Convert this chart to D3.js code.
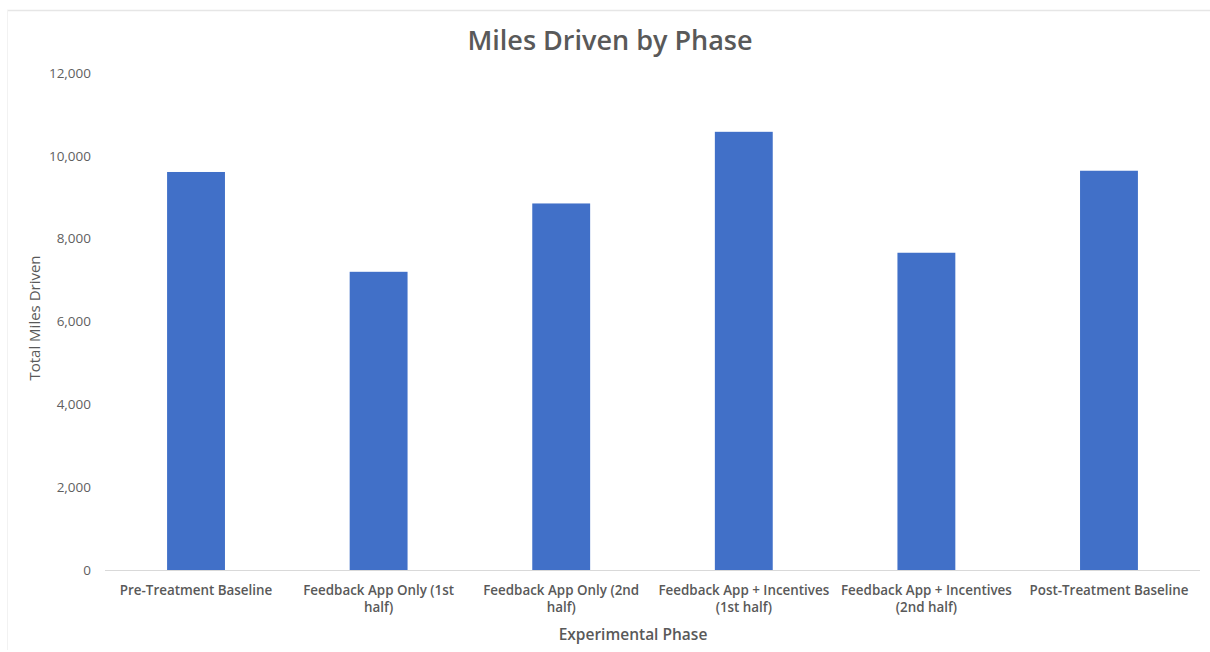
<!DOCTYPE html>
<html>
<head>
<meta charset="utf-8">
<script src="https://cdn.jsdelivr.net/npm/d3@7"></script>
<style>
  html, body { margin: 0; padding: 0; background: #ffffff; }
  svg { display: block; }
  text { font-family: "Open Sans", "Noto Sans", sans-serif; fill: #595959; }
</style>
</head>
<body>
<svg id="chart" width="1210" height="652"></svg>
<script>
const categories = [
  "Pre-Treatment Baseline",
  "Feedback App Only (1st half)",
  "Feedback App Only (2nd half)",
  "Feedback App + Incentives (1st half)",
  "Feedback App + Incentives (2nd half)",
  "Post-Treatment Baseline"
];
const milesDriven = [9610, 7200, 8850, 10580, 7660, 9640];
const yTicks = [0, 2000, 4000, 6000, 8000, 10000, 12000];

const chartTitle = "Miles Driven by Phase";
const xTitle = "Experimental Phase";
const yTitle = "Total Miles Driven";

const W = 1210, H = 652;
const margin = { top: 73, right: 10, bottom: 82, left: 105 };
const svg = d3.select("#chart");

// faint outer frame like the screenshot edge
svg.append("line")
  .attr("x1", 7).attr("x2", W).attr("y1", 10.5).attr("y2", 10.5)
  .attr("stroke", "#e6e6e6").attr("stroke-width", 1.5);
svg.append("line")
  .attr("x1", 7.5).attr("x2", 7.5).attr("y1", 10).attr("y2", H - 2)
  .attr("stroke", "#f2f2f2").attr("stroke-width", 1);

const x = d3.scaleBand()
  .domain(categories)
  .range([margin.left, W - margin.right])
  .paddingInner(0.683)
  .paddingOuter(0.34);

const y = d3.scaleLinear()
  .domain([0, 12000])
  .range([570, 73]);

// bars
svg.append("g").selectAll("rect")
  .data(categories)
  .join("rect")
  .attr("x", d => x(d))
  .attr("y", (d, i) => y(milesDriven[i]))
  .attr("width", x.bandwidth())
  .attr("height", (d, i) => y(0) - y(milesDriven[i]))
  .attr("fill", "#4170C8");

// y axis (labels only)
const yAxis = d3.axisLeft(y)
  .tickValues(yTicks)
  .tickFormat(d3.format(","))
  .tickSize(0)
  .tickPadding(0);
const gy = svg.append("g")
  .attr("transform", "translate(91,0)")
  .call(yAxis);
gy.select(".domain").remove();
gy.selectAll("text")
  .style("font-size", "13.5px")
  .style("font-weight", "500")
  .style("fill", "#5f5f5f")
  .style("font-family", "'Open Sans', sans-serif");

// x axis
const xAxis = d3.axisBottom(x).tickSize(0).tickPadding(15);
const gx = svg.append("g")
  .attr("transform", `translate(0,${y(0)})`)
  .call(xAxis);
gx.select(".domain")
  .attr("stroke", "#d9d9d9")
  .attr("d", `M${margin.left},0.5H${W - margin.right}`);
gx.selectAll("text")
  .style("font-size", "13.4px")
  .style("font-weight", "600")
  .style("fill", "#595959")
  .style("font-family", "'Open Sans', sans-serif")
  .call(wrap, 172);

function wrap(textSel, width) {
  textSel.each(function () {
    const text = d3.select(this);
    const words = text.text().split(/\s+/);
    const yAttr = text.attr("y");
    const dy = parseFloat(text.attr("dy")) || 0;
    text.text(null);
    let line = [];
    let lineNumber = 0;
    const lineHeight = 1.34;
    let tspan = text.append("tspan").attr("x", 0).attr("y", yAttr).attr("dy", dy + "em");
    for (const word of words) {
      line.push(word);
      tspan.text(line.join(" "));
      if (tspan.node().getComputedTextLength() > width && line.length > 1) {
        line.pop();
        tspan.text(line.join(" "));
        line = [word];
        tspan = text.append("tspan").attr("x", 0).attr("y", yAttr)
          .attr("dy", (++lineNumber * lineHeight + dy) + "em").text(word);
      }
    }
  });
}

// title
svg.append("text")
  .attr("x", 610).attr("y", 50)
  .attr("text-anchor", "middle")
  .style("font-size", "27px")
  .style("font-weight", "600")
  .style("fill", "#595959")
  .text(chartTitle);

// x title
svg.append("text")
  .attr("x", 633).attr("y", 640)
  .attr("text-anchor", "middle")
  .style("font-size", "15.5px")
  .style("font-weight", "600")
  .style("fill", "#595959")
  .text(xTitle);

// y title
svg.append("text")
  .attr("transform", "translate(40,318) rotate(-90)")
  .attr("text-anchor", "middle")
  .style("font-size", "15px")
  .style("font-weight", "500")
  .style("fill", "#595959")
  .text(yTitle);
</script>
</body>
</html>
